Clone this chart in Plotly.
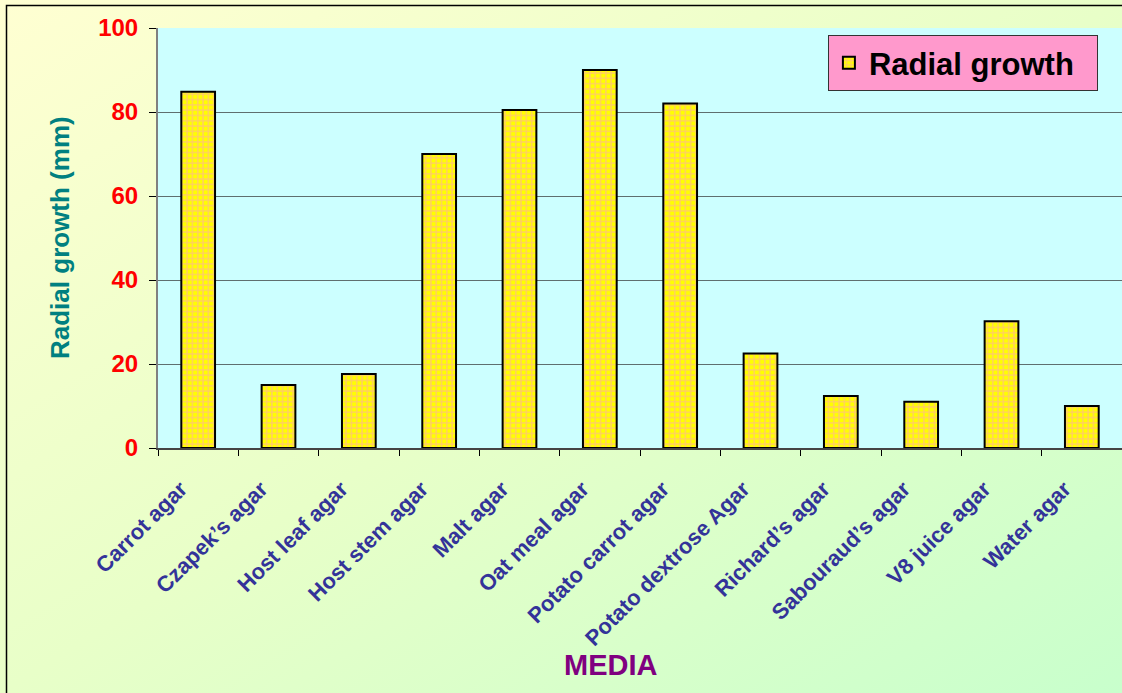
import base64
import plotly.graph_objects as go

categories = ["Carrot agar", "Czapek\u2019s agar", "Host leaf agar", "Host stem agar",
              "Malt agar", "Oat meal agar", "Potato carrot agar", "Potato dextrose Agar",
              "Richard\u2019s agar", "Sabouraud\u2019s agar", "V8 juice agar", "Water agar"]
radial_growth = [84.8, 15.0, 17.6, 70.0, 80.5, 90.0, 82.0, 22.5, 12.4, 11.0, 30.2, 10.0]
y_ticks = [0, 20, 40, 60, 80, 100]
series_name = "Radial growth"

W, H = 1122, 693
ML, MR, MT, MB = 158, 0, 28, 245
PW, PH = W - ML - MR, H - MT - MB

svg = (f'<svg xmlns="http://www.w3.org/2000/svg" width="{W}" height="{H}" viewBox="0 0 {W} {H}" '
       f'preserveAspectRatio="none"><defs><linearGradient id="g" x1="0" y1="0" x2="1" y2="1">'
       f'<stop offset="0" stop-color="#FFFFD2"/><stop offset="0.5" stop-color="#E8FFC8"/>'
       f'<stop offset="1" stop-color="#C8FFCC"/></linearGradient></defs>'
       f'<rect width="{W}" height="{H}" fill="url(#g)"/>'
       f'<rect x="{ML}" y="{MT}" width="{PW}" height="{PH}" fill="#CCFFFF"/>'
       f'<path d="M6.5 {H} V5.5 H{W}" fill="none" stroke="#000" stroke-width="1.5"/></svg>')
src = "data:image/svg+xml;base64," + base64.b64encode(svg.encode()).decode()

fig = go.Figure()
fig.add_trace(go.Bar(
    x=categories, y=radial_growth, name=series_name + "\u00a0\u00a0",
    marker=dict(color="#FFFF00",
                line=dict(color="#000000", width=2),
                pattern=dict(shape="+", fgcolor="#FF99CC", bgcolor="#FFFF00",
                             size=5.3, solidity=0.45)),
))

fig.add_layout_image(dict(
    source=src, xref="paper", yref="paper",
    x=-ML / PW, y=1 + MT / PH, sizex=W / PW, sizey=H / PH,
    xanchor="left", yanchor="top", sizing="stretch", layer="below"))

fig.update_layout(
    width=W, height=H,
    margin=dict(l=ML, r=MR, t=MT, b=MB, pad=0),
    paper_bgcolor="#FFFFCC", plot_bgcolor="rgba(0,0,0,0)",
    bargap=0.58,
    font=dict(family="Liberation Sans, Arial, sans-serif"),
    showlegend=True,
    legend=dict(x=0.975, y=0.983, xanchor="right", yanchor="top",
                bgcolor="#FF99CC", bordercolor="#333333", borderwidth=1,
                font=dict(size=31, color="#000000", family="Liberation Sans, Arial, sans-serif", weight="bold")),
    xaxis=dict(
        tickangle=-45, tickson="boundaries", ticks="outside", ticklen=6, tickcolor="#000",
        showline=True, linecolor="#444444", linewidth=2,
        tickfont=dict(size=22, color="#333399", weight="bold"),
        ticksuffix="\u00a0\u00a0\u00a0\u00a0",
        ticklabelstandoff=0,
    ),
    yaxis=dict(
        range=[0, 100], tickvals=y_ticks, ticks="outside", ticklen=7, tickcolor="#000",
        showline=True, linecolor="#808080", linewidth=2,
        showgrid=True, gridcolor="#5F6F6F", gridwidth=1, zeroline=False,
        tickfont=dict(size=24, color="#FF0000", weight="bold"),
        ticklabelstandoff=6,
    ),
    annotations=[
        dict(text="MEDIA", xref="paper", yref="paper", x=(611 - ML) / PW, y=(MT + PH - 665) / PH,
             xanchor="center", yanchor="middle",
             showarrow=False, font=dict(size=29, color="#800080", weight="bold")),
        dict(text="Radial growth (mm)", xref="paper", yref="paper", x=(60 - ML) / PW, y=0.5,
             xanchor="center", yanchor="middle",
             textangle=-90, showarrow=False, font=dict(size=26, color="#008080", weight="bold")),
    ],
)

fig.write_html("out.html", config={"displayModeBar": False},
               post_script="document.body.style.margin='0';document.body.style.overflow='hidden';")
